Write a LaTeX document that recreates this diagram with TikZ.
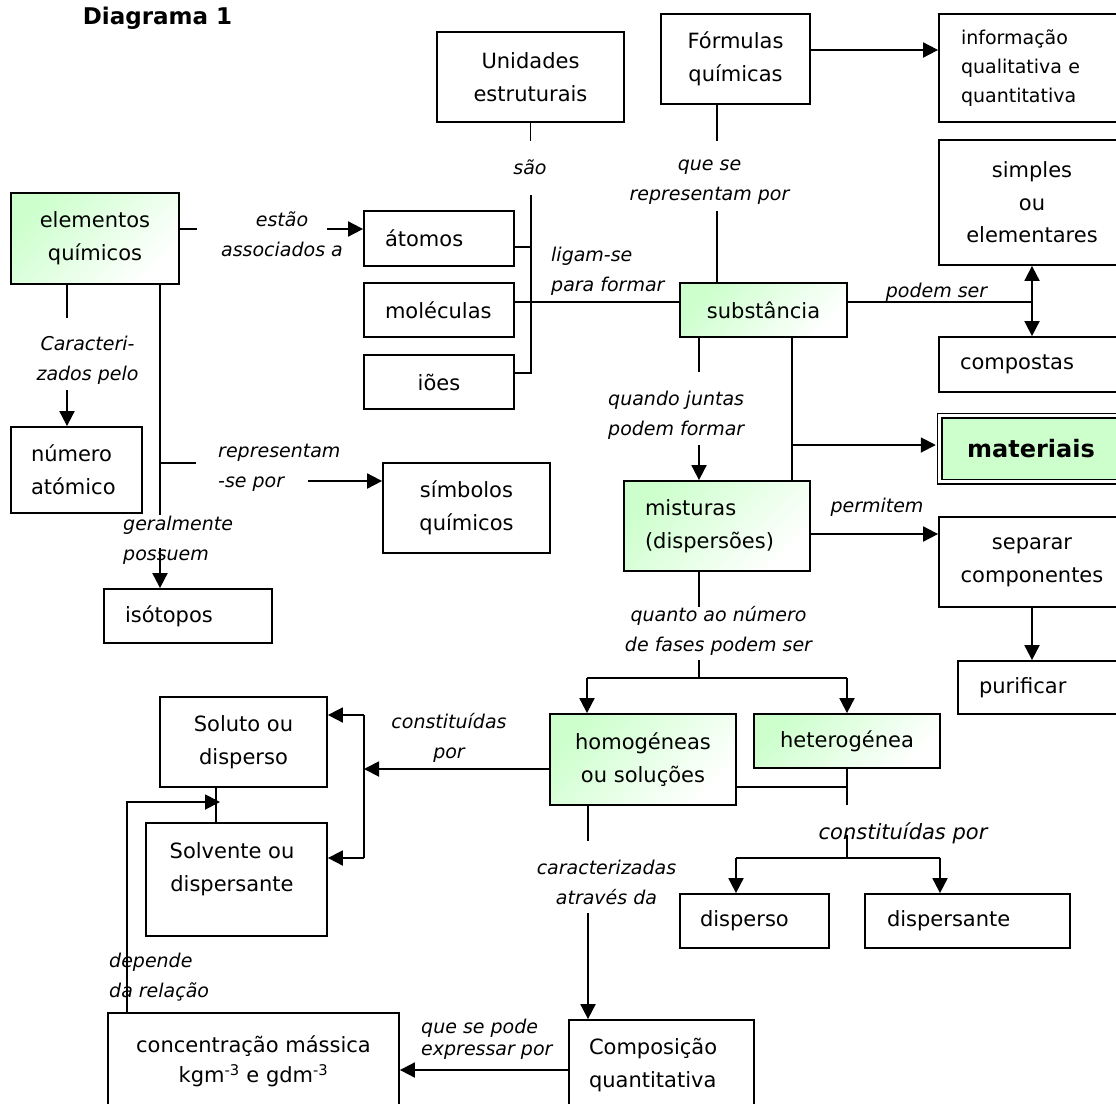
\documentclass[tikz,border=0pt]{standalone}
\usepackage{fontspec}
\setmainfont{DejaVu Sans}
\usetikzlibrary{arrows.meta}
\definecolor{gfill}{RGB}{204,255,204}
\newcommand\boxfont{\fontsize{21}{33}\selectfont}
\newcommand\lblfont{\fontsize{19}{30}\selectfont\itshape}
\newcommand\infofont{\fontsize{19}{29}\selectfont}
\tikzset{
  box/.style={draw, line width=1.8pt, inner sep=0pt, align=center, font=\boxfont},
  gbox/.style={box, top color=gfill, bottom color=white, shading angle=45},
  lbox/.style={box, align=left},
  lbl/.style={font=\lblfont, align=center, inner sep=0pt},
  lbll/.style={lbl, align=left, anchor=west},
  conn/.style={line width=1.9pt},
  arr/.style={conn, -{Triangle[length=15pt,width=15pt]}},
}
\begin{document}
\begin{tikzpicture}[x=1pt,y=-1pt]
\useasboundingbox (0,0) rectangle (1116,1103);
\fill[white] (0,0) rectangle (1116,1103);
\clip (0,0) rectangle (1116,1103);

% title
\node[font=\fontsize{23}{26}\selectfont\bfseries, inner sep=0pt] (title) at (157.5,18) {Diagrama 1};

% boxes
\node[box, minimum width=187pt, minimum height=90pt] (unid) at (530.5,77) {Unidades\\estruturais};
\node[box, minimum width=149pt, minimum height=90pt] (form) at (735.5,59) {Fórmulas\\químicas};
\node[lbox, font=\infofont, inner xsep=22pt, text width=142pt, minimum width=186pt, minimum height=108pt] (info) at (1032,68) {informação\\qualitativa e\\quantitativa};
\node[box, font=\fontsize{21}{32.5}\selectfont, minimum width=186pt, minimum height=125pt] (simp) at (1032,202.5) {simples\\ou\\elementares};
\node[lbox, inner xsep=21pt, text width=144pt, minimum width=186pt, minimum height=55pt] (comp) at (1032,364.5) {compostas};
\node[box, fill=gfill, double, double distance=3pt, line width=1.5pt, font=\fontsize{24}{28}\selectfont\bfseries, minimum width=183pt, minimum height=66pt] (mat) at (1031,448.5) {materiais};
\node[gbox, minimum width=168pt, minimum height=91pt] (elem) at (95,238.5) {elementos\\químicos};
\node[lbox, inner xsep=21pt, text width=108pt, minimum width=150pt, minimum height=55pt] (atom) at (439,238.5) {átomos};
\node[lbox, inner xsep=21pt, text width=108pt, minimum width=150pt, minimum height=54pt] (mol) at (439,310) {moléculas};
\node[box, minimum width=150pt, minimum height=54pt] (ioes) at (439,382) {iões};
\node[gbox, minimum width=167pt, minimum height=54pt] (subst) at (763.5,310) {substância};
\node[lbox, inner xsep=20pt, text width=91pt, minimum width=131pt, minimum height=86pt] (numero) at (76.5,470) {número\\atómico};
\node[box, minimum width=167pt, minimum height=90pt] (simb) at (466.5,508) {símbolos\\químicos};
\node[lbox, inner xsep=21pt, text width=126pt, minimum width=168pt, minimum height=54pt] (isot) at (188,616) {isótopos};
\node[gbox, align=left, inner xsep=21pt, text width=144pt, minimum width=186pt, minimum height=90pt] (mist) at (717,526) {misturas\\(dispersões)};
\node[box, minimum width=186pt, minimum height=90pt] (sep) at (1032,562) {separar\\componentes};
\node[lbox, inner xsep=21pt, text width=125pt, minimum width=167pt, minimum height=53pt] (puri) at (1041.5,687.5) {purificar};
\node[gbox, minimum width=186pt, minimum height=91pt] (homo) at (643,759.5) {homogéneas\\ou soluções};
\node[gbox, minimum width=186pt, minimum height=54pt] (hetero) at (847,741) {heterogénea};
\node[box, minimum width=167pt, minimum height=90pt] (soluto) at (243.5,742) {Soluto ou\\disperso};
\node[box, minimum width=181pt, minimum height=113pt] (solv) at (236.5,879.5) {};
\node[font=\boxfont, align=center, inner sep=0pt] (solvtxt) at (232,869) {Solvente ou\\dispersante};
\node[lbox, inner xsep=20pt, text width=109pt, minimum width=149pt, minimum height=54pt] (disp1) at (754.5,921) {disperso};
\node[lbox, inner xsep=22pt, text width=161pt, minimum width=205pt, minimum height=54pt] (disp2) at (967.5,921) {dispersante};
\node[lbox, inner xsep=20pt, text width=145pt, minimum width=185pt, minimum height=90pt] (compq) at (661.5,1065) {Composição\\quantitativa};
\node[box, font=\fontsize{21}{30}\selectfont, minimum width=291pt, minimum height=97pt] (conc) at (253.5,1061.5) {concentração mássica\\kgm\textsuperscript{-3} e gdm\textsuperscript{-3}};

% labels
\node[lbl] (sao) at (530,167) {são};
\node[lbl] (qse) at (709.5,182) {que se\\representam por};
\node[lbl] (estao) at (282,234) {estão\\associados a};
\node[lbll] (ligam) at (551,271) {ligam-se\\para formar};
\node[lbl] (podem) at (936.5,292) {podem ser};
\node[lbl] (carac) at (87.5,360) {Caracteri-\\zados pelo};
\node[lbll] (repr) at (218,468) {representam\\-se por};
\node[lbll] (geral) at (123,540) {geralmente\\possuem};
\node[lbll] (quando) at (608,415) {quando juntas\\podem formar};
\node[lbl] (perm) at (877,507) {permitem};
\node[lbl] (quanto) at (718.5,630.5) {quanto ao número\\de fases podem ser};
\node[lbl] (const1) at (449,738) {constituídas\\por};
\node[lbl, font=\fontsize{21}{30}\selectfont\itshape] (const2) at (903,833) {constituídas por};
\node[lbl] (caract) at (606.5,882) {caracterizadas\\através da};
\node[lbll] (dep) at (109,977) {depende\\da relação};
\node[lbll, font=\fontsize{19}{22}\selectfont\itshape] (qsp) at (421,1039) {que se pode\\expressar por};

% connectors: Unidades / átomos / moléculas / iões
\coordinate (ju) at (531,195);
\coordinate (jat) at (531,247);
\coordinate (jmo) at (531,302);
\coordinate (jio) at (531,373);
\draw[conn] (unid.south) -- ++(0,18);
\draw[conn] (ju) -- (jio) -- (ioes.east |- jio);
\draw[conn] (atom.east |- jat) -- (jat);
\draw[conn] (mol.east |- jmo) -- (subst.west |- jmo);

% Fórmulas
\draw[conn] (form.south) ++(-18.5,0) -- ++(0,36);
\draw[conn] (subst.north) ++(-46.5,0) -- ++(0,-71);
\draw[arr] (form.east |- 0,50) -- (info.west |- 0,50);

% elementos
\draw[conn] (elem.east |- 0,229) -- ++(17,0);
\draw[arr] (327,229) -- (atom.west |- 0,229);
\draw[conn] (67,0 |- elem.south) -- (67,318);
\draw[arr] (67,390) -- (67,0 |- numero.north);
\draw[conn] (160,0 |- elem.south) -- (160,515);
\draw[conn] (160,463) -- (196,463);
\draw[arr] (308,481) -- (simb.west |- 0,481);
\draw[arr] (160,548) -- (160,0 |- isot.north);

% substância
\coordinate (jps) at (1032,302);
\draw[conn] (subst.east |- jps) -- (jps);
\draw[arr] (jps) -- (jps |- simp.south);
\draw[arr] (jps) -- (jps |- comp.north);
\draw[conn] (699,0 |- subst.south) -- (699,372);
\draw[arr] (699,445) -- (699,0 |- mist.north);
\draw[conn] (792,0 |- subst.south) -- (792,0 |- mist.north);
\draw[arr] (792,445) -- ([xshift=-3pt]mat.west |- 0,445);

% misturas
\draw[arr] (mist.east |- 0,534) -- (sep.west |- 0,534);
\draw[arr] (sep.south) -- (sep.south |- puri.north);
\draw[conn] (699,0 |- mist.south) -- (699,607);
\draw[conn] (699,660) -- (699,678);
\draw[conn] (587,678) -- (847,678);
\draw[arr] (587,678) -- (587,0 |- homo.north);
\draw[arr] (847,678) -- (hetero.north);

% homogéneas
\coordinate (jb) at (364,769);
\draw[arr] (homo.west |- jb) -- (jb);
\draw[conn] (364,715) -- (364,858);
\draw[arr] (364,715) -- (soluto.east |- 0,715);
\draw[arr] (364,858) -- (solv.east |- 0,858);
\draw[conn] (homo.east |- 0,787) -- (847,787);
\draw[conn] (hetero.south) -- (847,805);
\draw[conn] (847,835) -- (847,858);
\draw[conn] (736,858) -- (940,858);
\draw[arr] (736,858) -- (736,0 |- disp1.north);
\draw[arr] (940,858) -- (940,0 |- disp2.north);
\draw[conn] (588,0 |- homo.south) -- (588,841);
\draw[arr] (588,913) -- (588,0 |- compq.north);
\draw[arr] (compq.west |- 0,1070) -- (conc.east |- 0,1070);

% soluto / solvente
\draw[conn] (soluto.south -| 216,0) -- (solv.north -| 216,0);
\draw[arr] (127,0 |- conc.north) -- (127,802) -- (220,802);
\end{tikzpicture}
\end{document}
